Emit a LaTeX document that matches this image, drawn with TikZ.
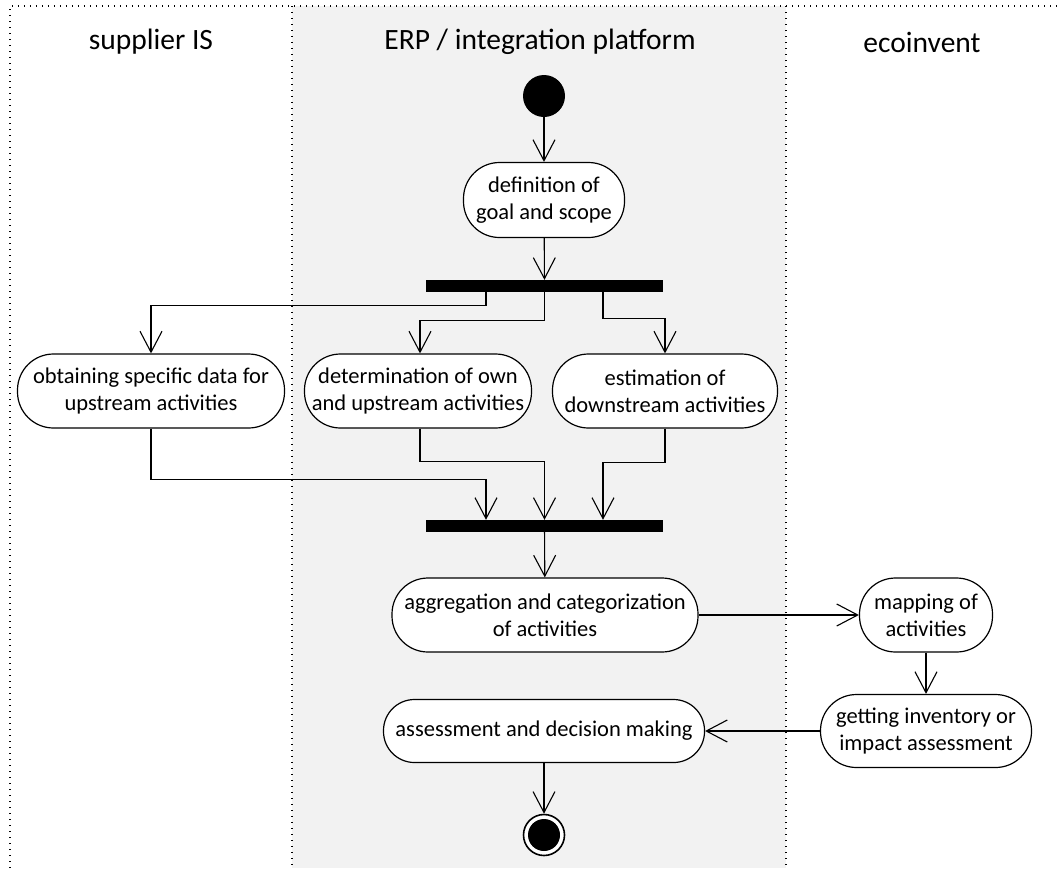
\documentclass[tikz,border=0pt]{standalone}
\usepackage{fontspec}
\setmainfont{Carlito}
\usetikzlibrary{arrows.meta}
\definecolor{lanegray}{RGB}{242,242,242}
\tikzset{
  act/.style={draw, line width=1.2pt, fill=white, rectangle, rounded corners=36pt, inner sep=0pt, align=center, font=\fontsize{22.5}{27}\selectfont},
  bar/.style={fill=black, rectangle, inner sep=0pt, minimum width=237pt, minimum height=12pt},
  arr/.style={line width=1.1pt, -{Straight Barb[length=21pt,width=22pt,line width=1.1pt]}},
  lane/.style={line width=1.3pt, dash pattern=on 1.3pt off 4.7pt},
  head/.style={font=\fontsize{29.5}{33}\selectfont},
}
\begin{document}
\begin{tikzpicture}[x=1pt,y=-1pt]
\useasboundingbox (0,0) rectangle (1060,868);
\fill[white] (0,0) rectangle (1060,868);
\fill[lanegray] (292,6) rectangle (786,868);
\draw[lane] (10,868) -- (10,6) -- (1060,6);
\draw[lane] (292,6) -- (292,868);
\draw[lane] (786,6) -- (786,868);

\node[head] (h1) at (151,42) {supplier IS};
\node[head] (h2) at (540,42) {ERP / integration platform};
\node[head] (h3) at (922,42) {ecoinvent};

\node[circle, fill=black, minimum size=42pt, inner sep=0pt] (start) at (544,96) {};
\node[act, minimum width=161pt, minimum height=75pt] (def) at (544,200) {definition of\\goal and scope};
\node[bar] (f1) at (544.5,286) {};
\node[act, minimum width=267pt, minimum height=74pt] (obt) at (151,391) {obtaining specific data for\\upstream activities};
\node[act, minimum width=227pt, minimum height=74pt] (det) at (418,391) {determination of own\\and upstream activities};
\node[act, minimum width=225pt, minimum height=74pt] (est) at (665,391) {estimation of\\downstream activities};
\node[bar] (f2) at (544.5,526) {};
\node[act, minimum width=306pt, minimum height=74pt] (agg) at (545,615) {aggregation and categorization\\of activities};
\node[act, minimum width=133pt, minimum height=74pt] (map) at (926,615) {mapping of\\activities};
\node[act, minimum width=211pt, minimum height=73pt] (get) at (926,731) {getting inventory or\\impact assessment};
\node[act, rounded corners=31pt, minimum width=321pt, minimum height=63pt] (ass) at (544,731) {assessment and decision making};
\node[circle, draw, line width=1.6pt, fill=white, minimum size=41pt, inner sep=0pt,
  path picture={\fill[black] (path picture bounding box.center) circle (16pt);}] (end) at (544,835) {};

\draw[arr] (start) -- (def);
\draw[arr] (def) -- (f1);
\draw[arr] ([xshift=-58.5pt]f1.south) -- ++(0,13) -| (obt.north);
\draw[arr] (f1.south) -- ++(0,28) -| ([xshift=2pt]det.north);
\draw[arr] ([xshift=58.5pt]f1.south) -- ++(0,26) -| (est.north);
\draw[arr] (obt.south) -- ++(0,51) -| ([xshift=-58.5pt]f2.north);
\draw[arr] ([xshift=2pt]det.south) -- ++(0,33) -| (f2.north);
\draw[arr] (est.south) -- ++(0,34) -| ([xshift=58.5pt]f2.north);
\draw[arr] (f2) -- (agg);
\draw[arr] (agg) -- (map);
\draw[arr] (map) -- (get);
\draw[arr] (get) -- (ass);
\draw[arr] (ass) -- (end);
\end{tikzpicture}
\end{document}
